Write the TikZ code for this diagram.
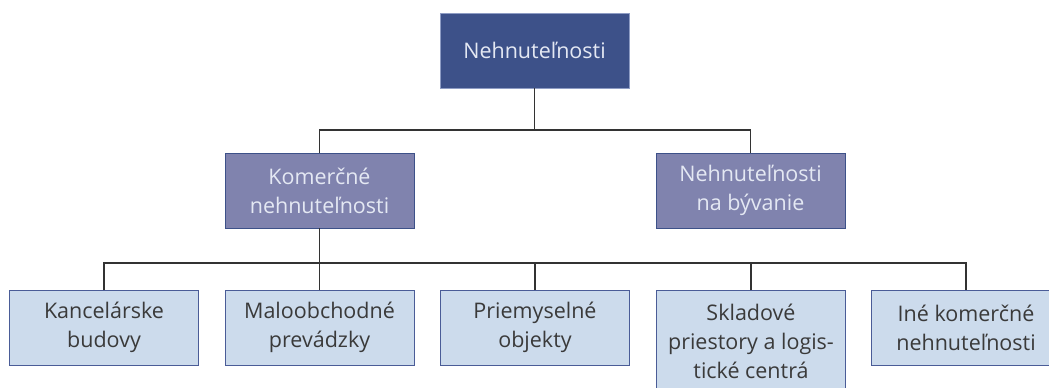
\documentclass[tikz,border=0pt]{standalone}
\usepackage{fontspec}
\setmainfont{Open Sans}
\definecolor{topfill}{HTML}{3D5189}
\definecolor{topdraw}{HTML}{8E9CC4}
\definecolor{midfill}{HTML}{8083AE}
\definecolor{middraw}{HTML}{3D5189}
\definecolor{lowfill}{HTML}{CCDBEC}
\definecolor{lowdraw}{HTML}{4A5C97}
\definecolor{lighttext}{HTML}{E4E8F3}
\definecolor{darktext}{HTML}{3A3A3A}
\definecolor{linecol}{HTML}{333333}
\tikzset{
  box/.style={minimum width=189pt, minimum height=75pt, inner sep=0pt, outer sep=0pt,
    align=center, font=\fontsize{21.5}{29}\selectfont, line width=0.9pt},
  topbox/.style={box, fill=topfill, draw=topdraw, text=lighttext},
  midbox/.style={box, fill=midfill, draw=middraw, text=lighttext},
  lowbox/.style={box, fill=lowfill, draw=lowdraw, text=darktext},
  conn/.style={draw=linecol, line width=1.3pt}
}
\begin{document}
\begin{tikzpicture}[x=1pt,y=-1pt]
\clip (0,0) rectangle (1049,388);
\useasboundingbox (0,0) rectangle (1049,388);
\node[topbox] (top) at (534.5,50.5) {Nehnuteľnosti};
\node[midbox] (kom) at (319.5,190.5) {Komerčné\\nehnuteľnosti};
\node[midbox] (byv) at (750.5,190.5) {Nehnuteľnosti\\na bývanie};
\node[lowbox] (k1) at (104,327.5) {Kancelárske\\budovy};
\node[lowbox] (k2) at (319.5,327.5) {Maloobchodné\\prevádzky};
\node[lowbox] (k3) at (535,327.5) {Priemyselné\\objekty};
\node[lowbox, minimum height=103pt, anchor=north] (k4) at (751,290) {Skladové\\priestory a logis-\\tické centrá};
\node[lowbox] (k5) at (966,327.5) {Iné komerčné\\nehnuteľnosti};
\coordinate (b1) at (534.5,130);
\coordinate (b2) at (319.5,263);
\draw[conn] (top.south) -- (b1);
\draw[conn] (kom.north) |- (b1) -| (byv.north);
\draw[conn] (kom.south) -- (b2);
\draw[conn] (k1.north) |- (b2) -| (k5.north);
\draw[conn] (k2.north) -- (k2.north |- b2);
\draw[conn] (k3.north) -- (k3.north |- b2);
\draw[conn] (k4.north) -- (k4.north |- b2);
\end{tikzpicture}
\end{document}
